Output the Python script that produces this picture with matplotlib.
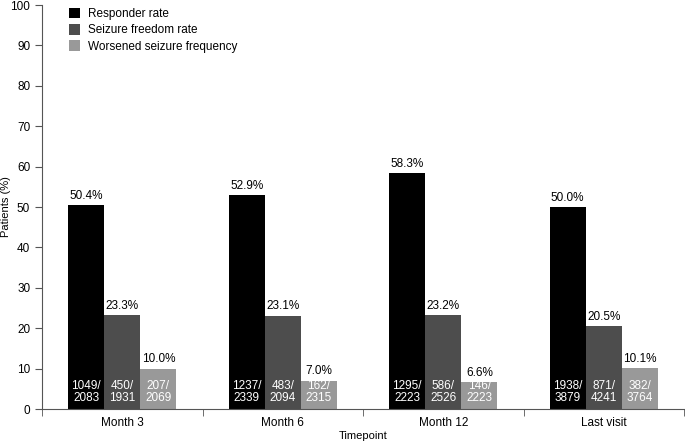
import matplotlib.pyplot as plt
import numpy as np

timepoints = ["Month 3", "Month 6", "Month 12", "Last visit"]
responder = [50.4, 52.9, 58.3, 50.0]
freedom = [23.3, 23.1, 23.2, 20.5]
worsened = [10.0, 7.0, 6.6, 10.1]
responder_n = ["1049/\n2083", "1237/\n2339", "1295/\n2223", "1938/\n3879"]
freedom_n = ["450/\n1931", "483/\n2094", "586/\n2526", "871/\n4241"]
worsened_n = ["207/\n2069", "162/\n2315", "146/\n2223", "382/\n3764"]

series = [
    ("Responder rate", responder, responder_n, "#000000"),
    ("Seizure freedom rate", freedom, freedom_n, "#4d4d4d"),
    ("Worsened seizure frequency", worsened, worsened_n, "#999999"),
]

plt.rcParams['font.family'] = ['Liberation Sans', 'DejaVu Sans']
fig = plt.figure(figsize=(6.85, 4.42), dpi=100)
ax = fig.add_axes([42 / 685, 33 / 442, 642 / 685, 404 / 442])

x = np.arange(len(timepoints))
w = 0.225
for i, (name, vals, ns, col) in enumerate(series):
    pos = x + (i - 1) * w
    ax.bar(pos, vals, width=w, color=col, label=name)
    for p, v, n in zip(pos, vals, ns):
        ax.text(p, v + 0.8, f"{v:.1f}%", ha="center", va="bottom", fontsize=8.5)
        ax.text(p, 1.2, n, ha="center", va="bottom", fontsize=8.5, color="white", linespacing=1.05)

ax.set_xlim(-0.5, 3.5)
ax.set_ylim(0, 100)
ax.set_yticks(range(0, 101, 10))
ax.set_xticks(x)
ax.set_xticklabels(timepoints, fontsize=8.5)
ax.set_xticks(np.arange(-0.5, 4, 1), minor=True)
ax.tick_params(axis="x", which="major", length=0, pad=6)
ax.tick_params(axis="x", which="minor", length=5, color="#555555")
ax.tick_params(axis="y", labelsize=8.5, length=5, color="#555555")
for s in ["top", "right"]:
    ax.spines[s].set_visible(False)
for s in ["left", "bottom"]:
    ax.spines[s].set_color("#555555")
ax.set_ylabel("Patients (%)", fontsize=8)
ax.set_xlabel("Timepoint", fontsize=8)
ax.yaxis.set_label_coords(-0.056, 0.5)
ax.xaxis.set_label_coords(0.5, -0.067)
ax.xaxis.label.set_va("center")
ax.yaxis.label.set_va("center")

ax.legend(loc="upper left", bbox_to_anchor=(0.025, 1.02), frameon=False, fontsize=8.5,
          handlelength=1.0, handleheight=1.0, handletextpad=0.6, labelspacing=0.35)

fig.savefig("out.png", dpi=100)
